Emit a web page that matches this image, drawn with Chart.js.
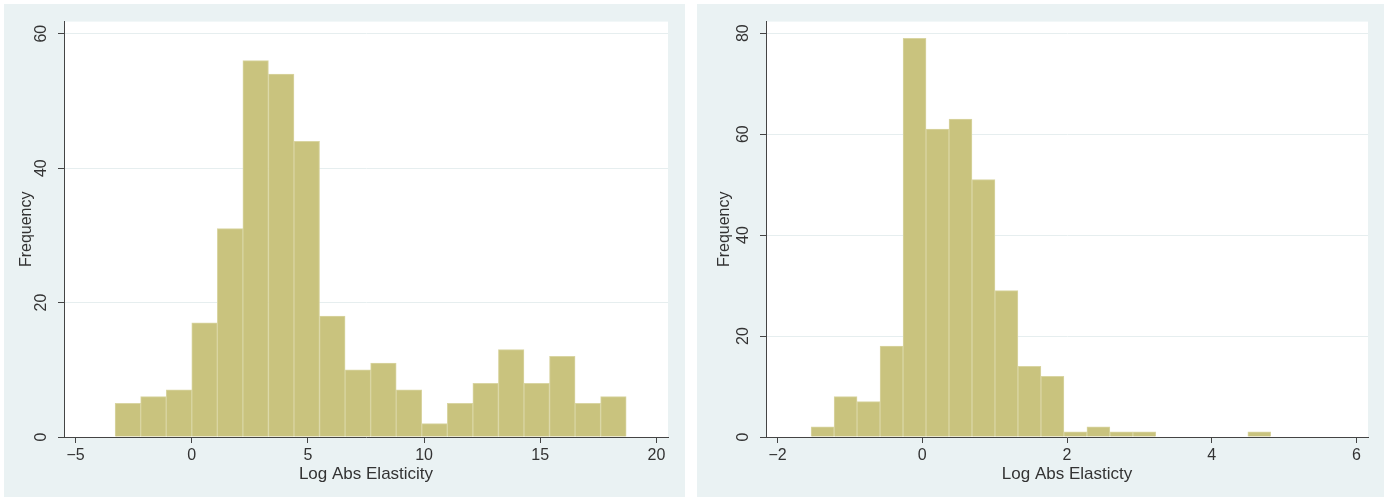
<!DOCTYPE html>
<html>
<head>
<meta charset="utf-8">
<script src="https://cdn.jsdelivr.net/npm/chart.js@4.4.1/dist/chart.umd.min.js"></script>
<style>
  body { margin: 0; background: #fff; width: 1389px; height: 499px; position: relative; overflow: hidden; }
  .panel { position: absolute; top: 4px; height: 493px; background: #eaf2f3; }
  .panel canvas { display: block; }
  #p1 { left: 4px; width: 681px; }
  #p2 { left: 697px; width: 687px; }
</style>
</head>
<body>
<div class="panel" id="p1"><canvas id="c1" width="681" height="493"></canvas></div>
<div class="panel" id="p2"><canvas id="c2" width="687" height="493"></canvas></div>
<script>
// left histogram: bin centres and counts
const leftBins = [-2.75, -1.65, -0.55, 0.55, 1.65, 2.75, 3.85, 4.95, 6.05, 7.15,
                  8.25, 9.35, 10.45, 11.55, 12.65, 13.75, 14.85, 15.95, 17.05, 18.15];
const leftCounts = [5, 6, 7, 17, 31, 56, 54, 44, 18, 10, 11, 7, 2, 5, 8, 13, 8, 12, 5, 6];
const leftXTicks = [-5, 0, 5, 10, 15, 20];
const leftYTicks = [0, 20, 40, 60];

// right histogram
const rightBins = [-1.378, -1.060, -0.743, -0.425, -0.107, 0.210, 0.528, 0.846, 1.163, 1.481,
                   1.799, 2.116, 2.434, 2.752, 3.069, 3.387, 3.705, 4.022, 4.340, 4.658];
const rightCounts = [2, 8, 7, 18, 79, 61, 63, 51, 29, 14, 12, 1, 2, 1, 1, 0, 0, 0, 0, 1];
const rightXTicks = [-2, 0, 2, 4, 6];
const rightYTicks = [0, 20, 40, 60, 80];

const yTitle = 'Frequency';
const leftXTitle = 'Log Abs Elasticity';
const rightXTitle = 'Log Abs Elasticty';

const FONT = 'Liberation Sans, Arial, Helvetica, sans-serif';
const barFill = '#c9c37e';
const barEdge = '#d9d5a2';
const axisColor = '#444';
const textColor = '#333';

const plotBg = {
    id: 'plotBg',
    beforeDraw(chart) {
        const a = chart.chartArea;
        chart.ctx.save();
        chart.ctx.fillStyle = '#fff';
        chart.ctx.fillRect(a.left, a.top, a.right - a.left, a.bottom - a.top);
        chart.ctx.restore();
    }
};

function makeHist(id, bins, counts, xTicks, yTicks, xMin, xMax, yMax, yWidth, rightPad, xTitle, yTitlePad) {
    const ctx = document.getElementById(id).getContext('2d');
    return new Chart(ctx, {
        type: 'bar',
        data: {
            datasets: [{
                data: bins.map((b, i) => ({ x: b, y: counts[i] })),
                backgroundColor: barFill,
                borderColor: barEdge,
                borderWidth: 1,
                borderSkipped: 'bottom',
                barPercentage: 1,
                categoryPercentage: 1
            }]
        },
        plugins: [plotBg],
        options: {
            responsive: false,
            animation: false,
            devicePixelRatio: 1,
            layout: { padding: { left: 0, top: 17, right: rightPad, bottom: 0 } },
            plugins: { legend: { display: false }, tooltip: { enabled: false } },
            scales: {
                x: {
                    type: 'linear',
                    min: xMin,
                    max: xMax,
                    offset: false,
                    afterBuildTicks: s => { s.ticks = xTicks.map(v => ({ value: v })); },
                    afterFit: s => { s.height = 60; },
                    grid: { display: true, drawOnChartArea: false, offset: false, tickLength: 6, tickColor: axisColor },
                    border: { display: true, color: axisColor, width: 1 },
                    ticks: {
                        color: textColor, font: { family: FONT, size: 16 }, padding: 3,
                        maxRotation: 0, minRotation: 0,
                        callback: v => (v < 0 ? '\u2212' + Math.abs(v) : String(v))
                    },
                    title: {
                        display: true, text: xTitle, color: textColor,
                        font: { family: FONT, size: 17 }, padding: { top: 0, bottom: 12 }
                    }
                },
                y: {
                    min: 0,
                    max: yMax,
                    afterBuildTicks: s => { s.ticks = yTicks.map(v => ({ value: v })); },
                    afterFit: s => { s.width = yWidth; },
                    grid: {
                        color: c => (c.tick && c.tick.value === 0 ? 'rgba(0,0,0,0)' : '#e6eeef'),
                        lineWidth: 1, tickLength: 6, tickColor: axisColor
                    },
                    border: { display: true, color: axisColor, width: 1 },
                    ticks: {
                        color: textColor, font: { family: FONT, size: 16 }, padding: 8,
                        minRotation: 90, maxRotation: 90, crossAlign: 'center'
                    },
                    title: {
                        display: true, text: yTitle, color: textColor,
                        font: { family: FONT, size: 16 }, padding: { top: yTitlePad, bottom: 0 }
                    }
                }
            }
        }
    });
}

makeHist('c1', leftBins, leftCounts, leftXTicks, leftYTicks, -5.5, 20.5, 61.8, 60, 17, leftXTitle, 13);
makeHist('c2', rightBins, rightCounts, rightXTicks, rightYTicks, -2.16, 6.16, 82.3, 69, 16, rightXTitle, 18);
</script>
</body>
</html>
